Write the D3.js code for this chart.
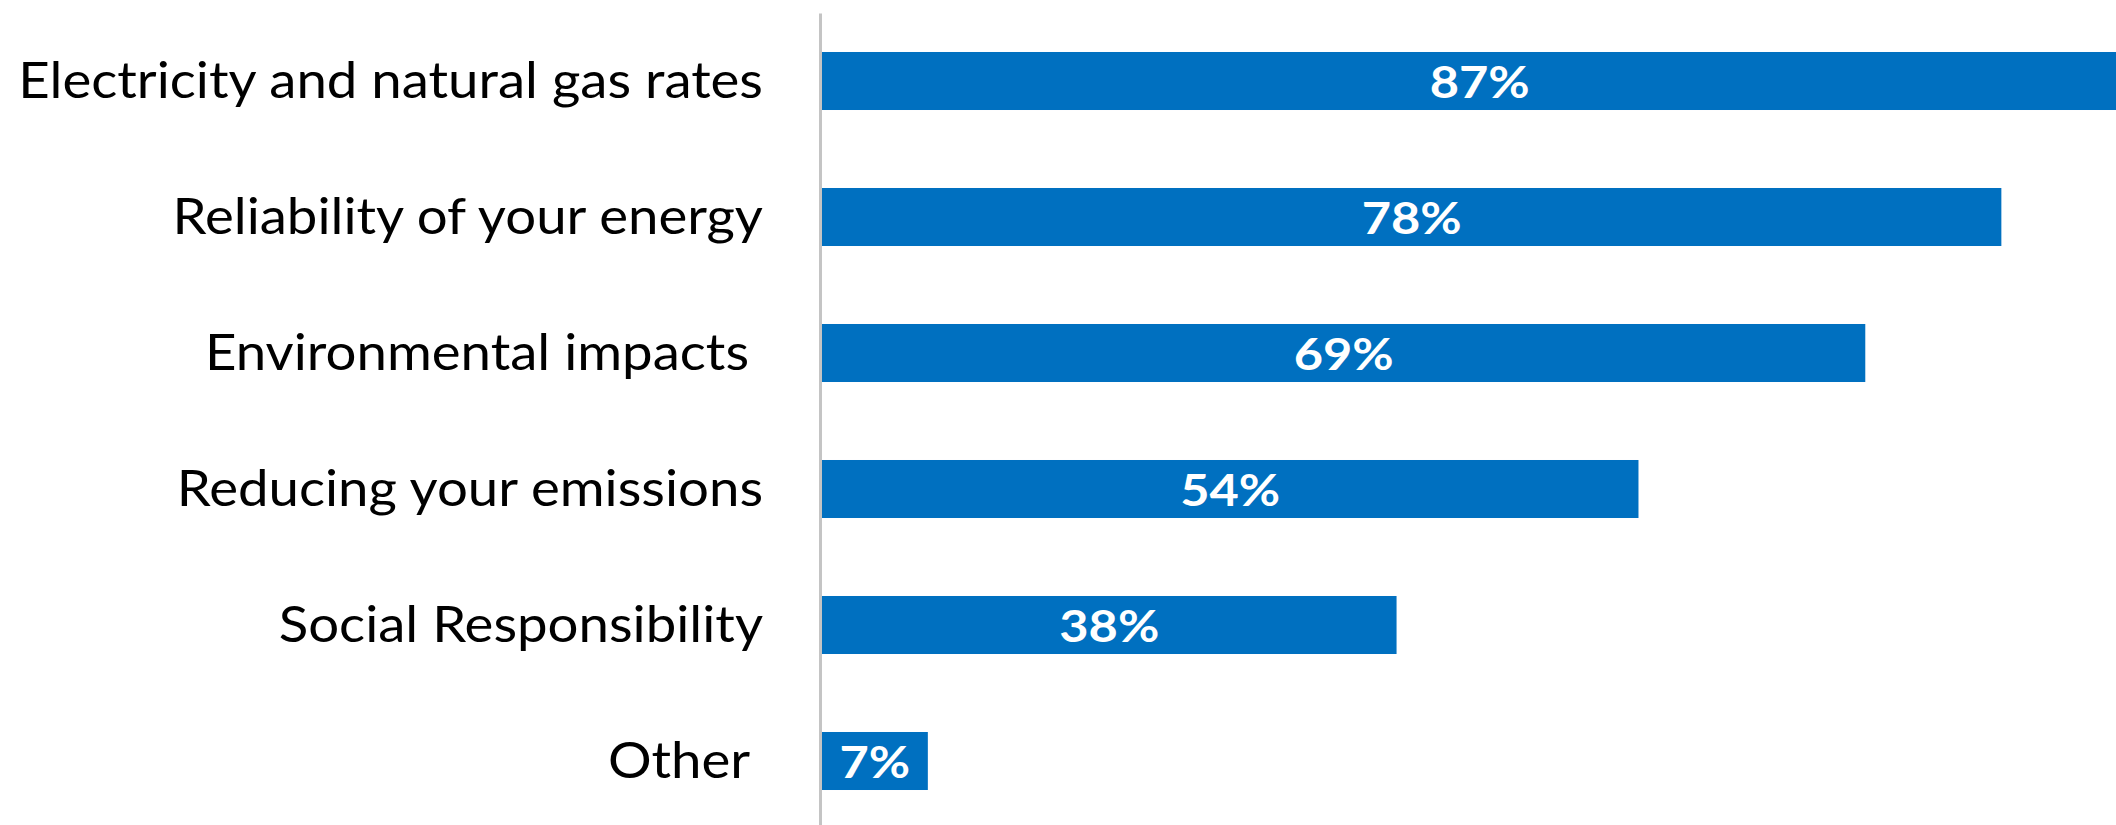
<!DOCTYPE html>
<html>
<head>
<meta charset="utf-8">
<script src="https://cdn.jsdelivr.net/npm/d3@7"></script>
<style>
  html, body { margin: 0; padding: 0; background: #ffffff; }
  svg { display: block; }
  text { white-space: pre; }
</style>
</head>
<body>
<svg id="chart" width="2116" height="825"></svg>
<script>
// Share of respondents rating each factor as important
const categories = [
  "Electricity and natural gas rates",
  "Reliability of your energy",
  "Environmental impacts ",
  "Reducing your emissions",
  "Social Responsibility",
  "Other "
];
const values = [87, 78, 69, 54, 38, 7];
const valueLabels = ["87%", "78%", "69%", "54%", "38%", "7%"];

const W = 2116, H = 825;
const axisX = 820;
const barColor = "#0070C0";

const svg = d3.select("#chart");

const x = d3.scaleLinear().domain([0, 100]).range([822, 2334]);
const y = d3.scaleBand()
  .domain(categories)
  .range([13, 829])
  .paddingInner(0.5735)
  .paddingOuter(0.28675);

// clip so the longest bar runs off the right edge
svg.append("defs").append("clipPath").attr("id", "plot-clip")
  .append("rect").attr("x", 0).attr("y", 0).attr("width", W).attr("height", H);

const rows = categories.map((c, i) => ({ cat: c, value: values[i], label: valueLabels[i] }));

const plot = svg.append("g").attr("clip-path", "url(#plot-clip)");

plot.selectAll("rect.bar")
  .data(rows)
  .join("rect")
  .attr("class", "bar")
  .attr("x", x(0))
  .attr("y", d => y(d.cat))
  .attr("width", d => x(d.value) - x(0))
  .attr("height", y.bandwidth())
  .attr("fill", barColor);

// category axis
const tickPad = 57;
const axis = svg.append("g")
  .attr("transform", `translate(${axisX},0)`)
  .call(d3.axisLeft(y).tickSize(0).tickPadding(tickPad));

axis.select(".domain")
  .attr("stroke", "#C4C4C4")
  .attr("stroke-width", 3);

const catText = axis.selectAll(".tick text")
  .attr("font-family", "Lato, 'Open Sans', sans-serif")
  .attr("font-size", 51)
  .attr("fill", "#000")
  .attr("dy", null)
  .attr("y", 17);

// narrow the labels horizontally to the label column width
let maxW = 0;
catText.each(function () { maxW = Math.max(maxW, this.getComputedTextLength()); });
const sx = 745 / maxW;
catText
  .attr("x", -tickPad / sx)
  .attr("transform", `scale(${sx},1)`);

// value labels centred on each bar
const vText = plot.selectAll("text.val")
  .data(rows)
  .join("text")
  .attr("class", "val")
  .attr("font-family", "Lato, 'Open Sans', sans-serif")
  .attr("font-weight", "bold")
  .attr("font-size", 43)
  .attr("fill", "#ffffff")
  .attr("text-anchor", "middle")
  .text(d => d.label);

let w87 = 0;
vText.each(function (d, i) { if (i === 0) w87 = this.getComputedTextLength(); });
const sv = 100 / w87;
vText.attr("transform", d =>
  `translate(${(x(0) + x(d.value)) / 2},${y(d.cat) + y.bandwidth() / 2 + 17}) scale(${sv},1)`);
</script>
</body>
</html>
